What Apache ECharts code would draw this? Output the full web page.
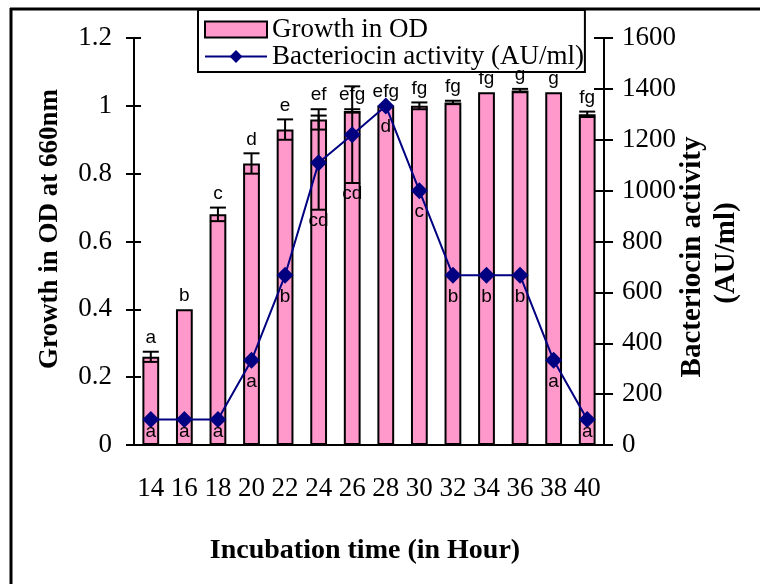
<!DOCTYPE html>
<html>
<head>
<meta charset="utf-8">
<script src="https://cdn.jsdelivr.net/npm/echarts@6.0.0/dist/echarts.min.js"></script>
<style>
  html, body { margin: 0; padding: 0; background: #fff; }
  #chart { width: 770px; height: 584px; }
</style>
</head>
<body>
<div id="chart"></div>
<script>
// incubation hours (x categories)
const hours = ['14', '16', '18', '20', '22', '24', '26', '28', '30', '32', '34', '36', '38', '40'];

// growth in OD at 660nm (bars) with error and significance letters
const odGrowth = [0.26, 0.40, 0.68, 0.83, 0.93, 0.96, 0.985, 1.00, 1.00, 1.01, 1.04, 1.045, 1.04, 0.975];
const odError  = [0.015, 0, 0.02, 0.03, 0.03, 0.03, 0.005, 0, 0.01, 0.005, 0, 0.005, 0, 0.008];
const odLetters = ['a', 'b', 'c', 'd', 'e', 'ef', 'efg', 'efg', 'fg', 'fg', 'fg', 'g', 'g', 'fg'];

// bacteriocin activity AU/ml (line) with error and letters
const activity = [100, 100, 100, 333, 667, 1110, 1220, 1333, 1000, 667, 667, 667, 333, 100];
const activityError = [0, 0, 0, 0, 0, 185, 190, 0, 0, 0, 0, 0, 0, 0];
const activityLetters = ['a', 'a', 'a', 'a', 'b', 'cd', 'cd', 'd', 'c', 'b', 'b', 'b', 'a', 'a'];

const SERIF = 'Liberation Serif';
const SANS = 'Liberation Sans';
const PINK = '#ff99cc';
const NAVY = '#000080';

const chart = echarts.init(document.getElementById('chart'));

// 误差线: [index, low, high]
function errorData(values, errors) {
    return values.map((v, i) => [i, v - errors[i], v + errors[i]]).filter((d, i) => errors[i] > 0);
}

function renderError(params, api) {
    const x = api.value(0);
    const lo = api.coord([x, api.value(1)]);
    const hi = api.coord([x, api.value(2)]);
    const half = 8;
    const style = { stroke: '#000', lineWidth: 2 };
    return {
        type: 'group',
        children: [
            { type: 'line', shape: { x1: lo[0], y1: lo[1], x2: hi[0], y2: hi[1] }, style },
            { type: 'line', shape: { x1: hi[0] - half, y1: hi[1], x2: hi[0] + half, y2: hi[1] }, style },
            { type: 'line', shape: { x1: lo[0] - half, y1: lo[1], x2: lo[0] + half, y2: lo[1] }, style }
        ]
    };
}

const valueAxisBase = {
    type: 'value',
    splitLine: { show: false },
    axisLine: { show: true, lineStyle: { color: '#000', width: 2 } },
    axisTick: { show: true, length: 8, lineStyle: { color: '#000', width: 2 } },
    axisLabel: { color: '#000', fontFamily: SERIF, fontSize: 27, formatter: v => String(v) }
};

const option = {
    animation: false,
    backgroundColor: '#fff',
    grid: { left: 134, right: 166, top: 38, bottom: 139, containLabel: false },
    legend: {
        data: [
            { name: 'Growth in OD', icon: 'rect', itemStyle: { color: PINK, borderColor: '#000', borderWidth: 2 } },
            { name: 'Bacteriocin activity (AU/ml)' }
        ],
        orient: 'vertical',
        left: 198,
        top: 10,
        itemWidth: 62,
        itemHeight: 16,
        itemGap: 0,
        padding: [6, 1, 2, 6],
        borderColor: '#000',
        borderWidth: 2,
        backgroundColor: '#fff',
        textStyle: { color: '#000', fontFamily: SERIF, fontSize: 27 }
    },
    xAxis: [
        {
            type: 'category',
            data: hours,
            axisLine: { lineStyle: { color: '#000', width: 2 } },
            axisTick: { length: 8, lineStyle: { color: '#000', width: 2 } },
            axisLabel: { color: '#000', fontFamily: SERIF, fontSize: 27, margin: 30, interval: 0 }
        },
        {
            // 向内的刻度
            type: 'category',
            data: hours,
            position: 'bottom',
            axisLine: { show: false },
            axisTick: { inside: true, length: 5, lineStyle: { color: '#000', width: 2 } },
            axisLabel: { show: false }
        }
    ],
    yAxis: [
        Object.assign({}, valueAxisBase, {
            min: 0, max: 1.2, interval: 0.2, position: 'left',
            axisLabel: Object.assign({}, valueAxisBase.axisLabel, { margin: 22 })
        }),
        Object.assign({}, valueAxisBase, {
            min: 0, max: 1600, interval: 200, position: 'right',
            axisTick: { show: true, length: 9, lineStyle: { color: '#000', width: 2 } },
            axisLabel: Object.assign({}, valueAxisBase.axisLabel, { margin: 18 })
        }),
        {
            type: 'value', min: 0, max: 1.2, interval: 0.2, position: 'left',
            splitLine: { show: false }, axisLine: { show: false }, axisLabel: { show: false },
            axisTick: { show: true, inside: true, length: 7, lineStyle: { color: '#000', width: 2 } }
        },
        {
            type: 'value', min: 0, max: 1600, interval: 200, position: 'right',
            splitLine: { show: false }, axisLine: { show: false }, axisLabel: { show: false },
            axisTick: { show: true, inside: true, length: 10, lineStyle: { color: '#000', width: 2 } }
        }
    ],
    series: [
        {
            name: 'Growth in OD',
            type: 'bar',
            yAxisIndex: 0,
            barWidth: '50%',
            data: odGrowth,
            itemStyle: { color: PINK, borderColor: '#000', borderWidth: 2 },
            z: 2
        },
        {
            name: 'odError',
            type: 'custom',
            yAxisIndex: 0,
            data: errorData(odGrowth, odError),
            renderItem: renderError,
            z: 3
        },
        {
            name: 'activityError',
            type: 'custom',
            yAxisIndex: 1,
            data: errorData(activity, activityError),
            renderItem: renderError,
            z: 3
        },
        {
            name: 'Bacteriocin activity (AU/ml)',
            type: 'line',
            yAxisIndex: 1,
            data: activity,
            symbol: 'diamond',
            symbolSize: 17,
            lineStyle: { color: NAVY, width: 2 },
            itemStyle: { color: NAVY },
            z: 4
        },
        {
            name: 'odLetters',
            type: 'custom',
            yAxisIndex: 0,
            data: odGrowth.map((v, i) => [i, v + odError[i]]),
            renderItem: function (params, api) {
                const p = api.coord([api.value(0), api.value(1)]);
                return {
                    type: 'text',
                    style: {
                        text: odLetters[params.dataIndex], x: p[0], y: p[1] - 14,
                        font: '19px ' + SANS, fill: '#000', align: 'center', verticalAlign: 'middle'
                    }
                };
            },
            z: 5
        },
        {
            name: 'activityLetters',
            type: 'custom',
            yAxisIndex: 1,
            data: activity.map((v, i) => [i, v - activityError[i]]),
            renderItem: function (params, api) {
                const i = params.dataIndex;
                const p = api.coord([api.value(0), api.value(1)]);
                const y = Math.min(p[1] + (activityError[i] > 0 ? 11 : 21), 432);
                return {
                    type: 'text',
                    style: {
                        text: activityLetters[i], x: p[0], y: y,
                        font: '19px ' + SANS, fill: '#000', align: 'center', verticalAlign: 'middle'
                    }
                };
            },
            z: 5
        }
    ],
    graphic: [
        // 外框
        { type: 'line', shape: { x1: 10, y1: 9, x2: 760, y2: 9 }, style: { stroke: '#000', lineWidth: 3 } },
        { type: 'line', shape: { x1: 11, y1: 8, x2: 11, y2: 584 }, style: { stroke: '#000', lineWidth: 3 } },
        {
            type: 'text', x: 50, y: 229, rotation: Math.PI / 2,
            style: { text: 'Growth in OD at 660nm', font: 'bold 27px ' + SERIF, fill: '#000', align: 'center', verticalAlign: 'middle' }
        },
        {
            type: 'text', x: 693, y: 257, rotation: Math.PI / 2,
            style: { text: 'Bacteriocin activity', font: 'bold 29px ' + SERIF, fill: '#000', align: 'center', verticalAlign: 'middle' }
        },
        {
            type: 'text', x: 727, y: 253, rotation: Math.PI / 2,
            style: { text: '(AU/ml)', font: 'bold 29px ' + SERIF, fill: '#000', align: 'center', verticalAlign: 'middle' }
        },
        {
            type: 'text', x: 365, y: 551,
            style: { text: 'Incubation time (in Hour)', font: 'bold 28px ' + SERIF, fill: '#000', align: 'center', verticalAlign: 'middle' }
        }
    ]
};

chart.setOption(option);
</script>
</body>
</html>
